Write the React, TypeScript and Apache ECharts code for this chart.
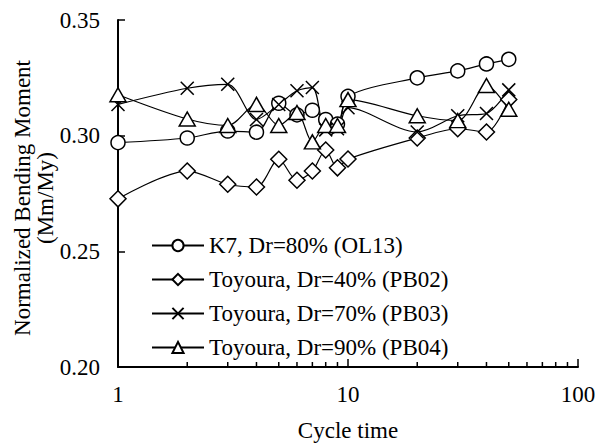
import React, { useEffect, useRef } from "react";
import * as echarts from "echarts";

const cycles = [1, 2, 3, 4, 5, 6, 7, 8, 9, 10, 20, 30, 40, 50];
const k7Dr80 = [0.297, 0.299, 0.302, 0.3015, 0.314, 0.309, 0.311, 0.307, 0.305, 0.317, 0.325, 0.328, 0.331, 0.333];
const toyoura40 = [0.2727, 0.2847, 0.279, 0.2778, 0.2898, 0.2807, 0.2847, 0.2938, 0.2861, 0.2899, 0.299, 0.303, 0.3016, 0.3156];
const toyoura70 = [0.3135, 0.3205, 0.3222, 0.307, 0.3135, 0.3194, 0.3208, 0.3025, 0.303, 0.3121, 0.3016, 0.3086, 0.3096, 0.3198];
const toyoura90 = [0.3177, 0.3072, 0.3044, 0.3135, 0.3044, 0.31, 0.2973, 0.3044, 0.3044, 0.3156, 0.3086, 0.3065, 0.3217, 0.3114];
const seriesNames = [
  "K7, Dr=80% (OL13)",
  "Toyoura, Dr=40% (PB02)",
  "Toyoura, Dr=70% (PB03)",
  "Toyoura, Dr=90% (PB04)",
];
const minorTicks = [2, 3, 4, 5, 6, 7, 8, 9, 20, 30, 40, 50, 60, 70, 80, 90];

const FONT = "'Liberation Serif', 'Times New Roman', serif";
const CROSS = "path://M0,0L10,10M10,0L0,10";

export default function App() {
  const ref = useRef<HTMLDivElement>(null);
  useEffect(() => {
    const chart = echarts.init(ref.current!, null, { renderer: "svg" });
    const mk = (name: string, vals: number[], symbol: string, size: number | number[]) => ({
      name,
      type: "line",
      data: cycles.map((c, i) => [c, vals[i]]),
      smooth: 0.3,
      symbol,
      symbolSize: size,
      showAllSymbol: true,
      lineStyle: { color: "#000", width: 1.2 },
      itemStyle: { color: symbol === CROSS ? "none" : "#fff", borderColor: "#000", borderWidth: 1.5 },
      z: 3,
    });
    chart.setOption({
      animation: false,
      textStyle: { fontFamily: FONT },
      grid: { left: 118, right: 21, top: 20, bottom: 71 },
      legend: {
        data: seriesNames,
        orient: "vertical",
        left: 146,
        top: 229,
        itemWidth: 52,
        itemHeight: 14,
        itemGap: 11,
        textStyle: { fontFamily: FONT, fontSize: 23, color: "#000" },
      },
      xAxis: {
        type: "log",
        logBase: 10,
        min: 1,
        max: 100,
        axisLine: { lineStyle: { color: "#000", width: 2 } },
        axisTick: { inside: true, length: 8, lineStyle: { color: "#000", width: 1.5 } },
        axisLabel: { fontSize: 23, color: "#000", margin: 16, fontFamily: FONT },
        splitLine: { show: false },
        name: "Cycle time",
        nameLocation: "middle",
        nameGap: 52,
        nameTextStyle: { fontSize: 23, color: "#000", fontFamily: FONT },
      },
      yAxis: {
        type: "value",
        min: 0.2,
        max: 0.35,
        interval: 0.05,
        axisLine: { show: true, lineStyle: { color: "#000", width: 2 } },
        axisTick: { show: true, inside: true, length: 7, lineStyle: { color: "#000", width: 1.5 } },
        axisLabel: { fontSize: 23, color: "#000", margin: 18, fontFamily: FONT, formatter: (v: number) => v.toFixed(2) },
        splitLine: { show: false },
      },
      graphic: [
        {
          type: "text",
          x: 34,
          y: 198,
          rotation: Math.PI / 2,
          style: {
            text: "Normalized Bending Moment\n(Mm/My)",
            font: `23px ${FONT}`,
            fill: "#000",
            textAlign: "center",
            textVerticalAlign: "middle",
            lineHeight: 23,
          },
        },
      ],
      series: [
        {
          type: "custom",
          silent: true,
          data: minorTicks.map((v) => [v, 0.2]),
          renderItem: (params: any, api: any) => {
            const p = api.coord([api.value(0), api.value(1)]);
            return {
              type: "line",
              shape: { x1: p[0], y1: p[1], x2: p[0], y2: p[1] - 5 },
              style: { stroke: "#000", lineWidth: 1.5 },
            };
          },
          z: 2,
        },
        mk(seriesNames[0], k7Dr80, "circle", 14),
        mk(seriesNames[1], toyoura40, "diamond", 16),
        mk(seriesNames[2], toyoura70, CROSS, 13),
        mk(seriesNames[3], toyoura90, "triangle", [16, 14]),
      ],
    });
    return () => chart.dispose();
  }, []);
  return (
    <div
      ref={ref}
      style={{ position: "fixed", left: 0, top: 0, width: 599, height: 447, background: "#fff" }}
    />
  );
}
